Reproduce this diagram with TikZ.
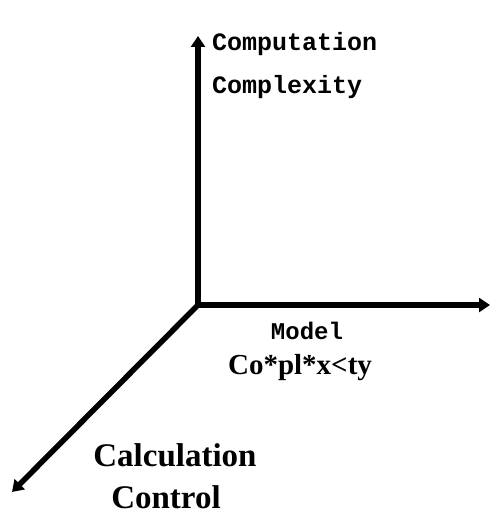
\documentclass[tikz,border=0pt]{standalone}
\usepackage{fontspec}
\setmainfont{Liberation Serif}
\newfontfamily\monofont{Liberation Mono}
\usetikzlibrary{arrows.meta}
\begin{document}
\begin{tikzpicture}[x=1pt,y=1pt,
  axis/.style={line width=5.5pt,-{Triangle[length=11pt,width=14pt]}},
  monolbl/.style={font=\monofont\bfseries\fontsize{25}{27}\selectfont,anchor=base west,inner sep=0pt},
  seriflbl/.style={font=\bfseries\fontsize{29}{32}\selectfont,inner sep=0pt},
  biglbl/.style={font=\bfseries\fontsize{33}{36}\selectfont,inner sep=0pt}]
\useasboundingbox (0,0) rectangle (490,519);
\coordinate (O) at (198,214);
\coordinate (top) at (198,483);
\coordinate (right) at (490,214);
\coordinate (diag) at (12,27);
\draw[axis] (O) -- (top);
\draw[axis] (O) -- (right);
\draw[axis] (O) -- (diag);
\node[monolbl] (comp1) at (212,468) {Computation};
\node[monolbl] (comp2) at (212,425) {Complexity};
\node[font=\monofont\bfseries\fontsize{24}{26}\selectfont,inner sep=0pt] (model) at (307,188) {Model};
\node[seriflbl] (cplx) at (300,151) {Co*pl*x<ty};
\node[biglbl] (calc) at (175,64) {Calculation};
\node[biglbl] (ctrl) at (166,22) {Control};
\end{tikzpicture}
\end{document}
